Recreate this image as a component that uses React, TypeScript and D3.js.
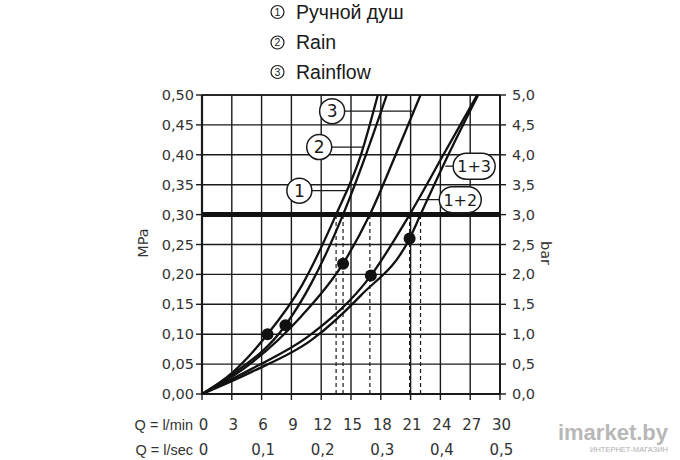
import React from "react";
import * as d3 from "d3";

// ---- data ----
const qTicks = [0, 3, 6, 9, 12, 15, 18, 21, 24, 27, 30];
const secTicks = [0, 0.1, 0.2, 0.3, 0.4, 0.5];
const secLabels = ["0", "0,1", "0,2", "0,3", "0,4", "0,5"];
const mpaTicks = [0, 0.05, 0.1, 0.15, 0.2, 0.25, 0.3, 0.35, 0.4, 0.45, 0.5];
const mpaLabels = ["0,00", "0,05", "0,10", "0,15", "0,20", "0,25", "0,30", "0,35", "0,40", "0,45", "0,50"];
const barTicks = [0, 0.5, 1, 1.5, 2, 2.5, 3, 3.5, 4, 4.5, 5];
const barLabels = ["0,0", "0,5", "1,0", "1,5", "2,0", "2,5", "3,0", "3,5", "4,0", "4,5", "5,0"];

const legendNames = ["Ручной душ", "Rain", "Rainflow"];

const curve1Q = [0, 3, 6.6, 10, 13.5, 16, 17.7];
const curve1P = [0, 0.035, 0.1, 0.18, 0.3, 0.4, 0.5];
const curve2Q = [0, 3, 8.4, 11, 14.2, 16.5, 18.6];
const curve2P = [0, 0.032, 0.115, 0.185, 0.3, 0.4, 0.5];
const curve3Q = [0, 4, 10, 14.2, 16.9, 19.5, 22.0];
const curve3P = [0, 0.04, 0.13, 0.218, 0.3, 0.4, 0.5];
const curve12Q = [0, 5, 11, 17, 20.9, 24.3, 27.7];
const curve12P = [0, 0.042, 0.1, 0.198, 0.3, 0.4, 0.5];
const curve13Q = [0, 5, 11, 16, 20.9, 22, 24.8, 27.8];
const curve13P = [0, 0.037, 0.09, 0.165, 0.26, 0.3, 0.4, 0.5];

const dotQ = [6.6, 8.4, 14.2, 17, 20.9];
const dotP = [0.1, 0.115, 0.218, 0.198, 0.26];

const crossQ = [13.5, 14.2, 16.9, 20.9, 22.0];
const refP = 0.3;

// circle labels: label, Q at center, P at center, leader end Q
const circleLabels = ["1", "2", "3"];
const circleQ = [9.8, 11.8, 13.1];
const circleP = [0.34, 0.413, 0.473];
const circleLeadQ = [14.6, 16.2, 21.2];
const pillLabels = ["1+3", "1+2"];
const pillQ = [27.4, 26.0];
const pillP = [0.381, 0.325];
const pillLeadQ = [24.5, 21.9];

export default function App() {
  const x = d3.scaleLinear().domain([0, 30]).range([202, 500]);
  const y = d3.scaleLinear().domain([0, 0.5]).range([394, 95]);
  const yb = d3.scaleLinear().domain([0, 5]).range([394, 95]);
  const xs = d3.scaleLinear().domain([0, 0.5]).range([202, 500]);

  const line = d3
    .line<[number, number]>()
    .x((d) => x(d[0]))
    .y((d) => y(d[1]))
    .curve(d3.curveMonotoneX);

  const series = [
    [curve1Q, curve1P],
    [curve2Q, curve2P],
    [curve3Q, curve3P],
    [curve12Q, curve12P],
    [curve13Q, curve13P],
  ].map(([q, p]) => line(q.map((v, i) => [v, p[i]] as [number, number])) || "");

  const axisFont = "'DejaVu Sans', sans-serif";
  const ink = "#1a1a1a";

  return (
    <svg
      width={680}
      height={460}
      style={{ position: "absolute", left: 0, top: 0, background: "#fff" }}
    >
      {/* legend */}
      {legendNames.map((n, i) => {
        const cy = [12, 42.5, 72][i];
        return (
          <g key={n}>
            <circle cx={277.5} cy={cy} r={6.5} fill="none" stroke={ink} strokeWidth={1.2} />
            <text x={277.5} y={cy + 3.7} fontSize={10.5} textAnchor="middle" fontFamily="'Liberation Sans', Arial, sans-serif" fill={ink}>
              {i + 1}
            </text>
            <text x={296} y={cy + 6.8} fontSize={19.5} fontFamily="'Liberation Sans', Arial, sans-serif" fill={ink}>
              {n}
            </text>
          </g>
        );
      })}

      {/* grid */}
      {qTicks.map((q) => (
        <line key={"gx" + q} x1={x(q)} x2={x(q)} y1={y(0)} y2={y(0.5)} stroke={ink} strokeWidth={1.4} />
      ))}
      {mpaTicks.map((p) => (
        <line key={"gy" + p} x1={x(0)} x2={x(30)} y1={y(p)} y2={y(p)} stroke={ink} strokeWidth={1.4} />
      ))}
      {/* axes frame */}
      <line x1={x(0)} x2={x(0)} y1={y(0)} y2={y(0.5)} stroke={ink} strokeWidth={2.2} />
      <line x1={x(30)} x2={x(30)} y1={y(0)} y2={y(0.5)} stroke={ink} strokeWidth={2} />
      <line x1={x(0)} x2={x(30)} y1={y(0)} y2={y(0)} stroke={ink} strokeWidth={2} />
      <line x1={x(0)} x2={x(30)} y1={y(0.5)} y2={y(0.5)} stroke={ink} strokeWidth={1.6} />

      {/* ticks and labels left */}
      {mpaTicks.map((p, i) => (
        <g key={"l" + p}>
          <line x1={x(0) - 6} x2={x(0)} y1={y(p)} y2={y(p)} stroke={ink} strokeWidth={1.4} />
          <text x={x(0) - 8} y={y(p) + 5} fontSize={14.5} textAnchor="end" fontFamily={axisFont} fill="#333">
            {mpaLabels[i]}
          </text>
        </g>
      ))}
      {barTicks.map((b, i) => (
        <g key={"r" + b}>
          <line x1={x(30)} x2={x(30) + 6} y1={yb(b)} y2={yb(b)} stroke={ink} strokeWidth={1.4} />
          <text x={x(30) + 12} y={yb(b) + 5} fontSize={14.5} textAnchor="start" fontFamily={axisFont} fill="#333">
            {barLabels[i]}
          </text>
        </g>
      ))}
      {qTicks.map((q) => (
        <g key={"b" + q}>
          <line x1={x(q)} x2={x(q)} y1={y(0)} y2={y(0) + 6} stroke={ink} strokeWidth={1.4} />
          <text x={x(q) + 1.5} y={430} fontSize={15} textAnchor="middle" fontFamily={axisFont} fill="#333">
            {q}
          </text>
        </g>
      ))}
      {secTicks.map((s, i) => (
        <text key={"s" + s} x={xs(s) + 1.5} y={455} fontSize={15} textAnchor="middle" fontFamily={axisFont} fill="#333">
          {secLabels[i]}
        </text>
      ))}
      <text x={193} y={430} fontSize={14.5} textAnchor="end" fontFamily="'Liberation Sans', Arial, sans-serif" fill="#333">Q = l/min</text>
      <text x={193} y={455} fontSize={14.5} textAnchor="end" fontFamily="'Liberation Sans', Arial, sans-serif" fill="#333">Q = l/sec</text>
      <text transform="translate(148,243) rotate(-90)" fontSize={14.5} textAnchor="middle" fontFamily={axisFont} fill="#333">MPa</text>
      <text transform="translate(541,253) rotate(90)" fontSize={14.5} textAnchor="middle" fontFamily={axisFont} fill="#333">bar</text>

      {/* dashed drop lines */}
      {crossQ.map((q) => (
        <line key={"d" + q} x1={x(q)} x2={x(q)} y1={y(0)} y2={y(refP)} stroke={ink} strokeWidth={1.2} strokeDasharray="4,3" />
      ))}

      {/* reference line */}
      <line x1={x(0)} x2={x(30)} y1={y(refP)} y2={y(refP)} stroke="#111" strokeWidth={5} />

      {/* curves */}
      <g clipPath="url(#plotclip)">
        <defs>
          <clipPath id="plotclip">
            <rect x={x(0)} y={y(0.5)} width={x(30) - x(0)} height={y(0) - y(0.5)} />
          </clipPath>
        </defs>
        {series.map((d, i) => (
          <path key={"c" + i} d={d} fill="none" stroke="#111" strokeWidth={2.3} />
        ))}
      </g>

      {/* dots */}
      {dotQ.map((q, i) => (
        <circle key={"dot" + i} cx={x(q)} cy={y(dotP[i])} r={6} fill="#111" />
      ))}

      {/* circle labels */}
      {circleLabels.map((l, i) => (
        <g key={"cl" + l}>
          <line x1={x(circleQ[i])} x2={x(circleLeadQ[i])} y1={y(circleP[i])} y2={y(circleP[i])} stroke={ink} strokeWidth={1.3} />
          <circle cx={x(circleQ[i])} cy={y(circleP[i])} r={12.5} fill="#fff" stroke={ink} strokeWidth={1.5} />
          <text x={x(circleQ[i])} y={y(circleP[i]) + 6} fontSize={17} textAnchor="middle" fontFamily={axisFont} fill={ink}>
            {l}
          </text>
        </g>
      ))}
      {pillLabels.map((l, i) => (
        <g key={"pl" + l}>
          <line x1={x(pillLeadQ[i])} x2={x(pillQ[i])} y1={y(pillP[i])} y2={y(pillP[i])} stroke={ink} strokeWidth={1.3} />
          <rect x={x(pillQ[i]) - 21} y={y(pillP[i]) - 13} width={42} height={26} rx={13} fill="#fff" stroke={ink} strokeWidth={1.5} />
          <text x={x(pillQ[i])} y={y(pillP[i]) + 6} fontSize={16} textAnchor="middle" fontFamily={axisFont} fill={ink}>
            {l}
          </text>
        </g>
      ))}

      {/* watermark */}
      <text x={668} y={440} fontSize={22} textAnchor="end" fontFamily="'Liberation Sans', Arial, sans-serif" fontWeight="bold" fill="#9a9a9a" opacity={0.7}>
        imarket.by
      </text>
      <text x={668} y={452} fontSize={7.5} textAnchor="end" fontFamily="'Liberation Sans', Arial, sans-serif" fill="#9a9a9a" opacity={0.8}>
        ИНТЕРНЕТ-МАГАЗИН
      </text>
    </svg>
  );
}
